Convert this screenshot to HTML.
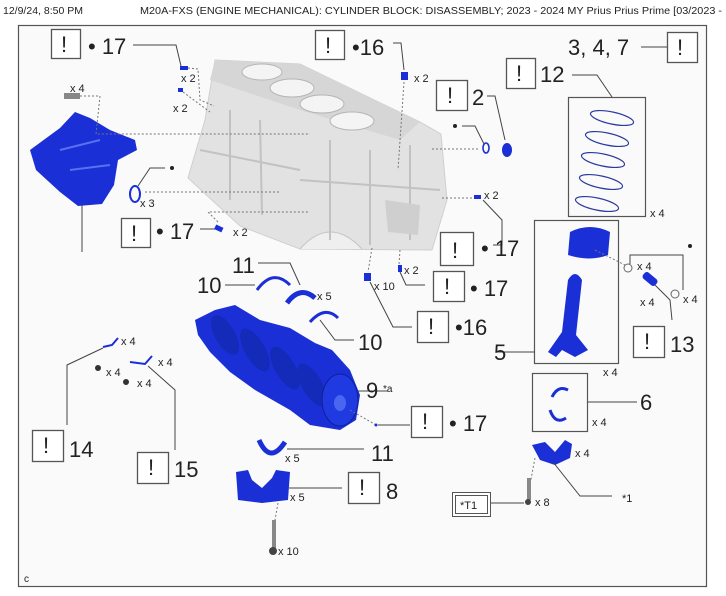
<!DOCTYPE html>
<html><head><meta charset="utf-8"><style>
html,body{margin:0;padding:0;background:#fff;width:726px;height:596px;overflow:hidden}
svg{display:block}
text{font-family:"Liberation Sans",sans-serif;fill:#222}
.b{fill:#fff;stroke:#555;stroke-width:1.3}
.l{fill:none;stroke:#444;stroke-width:1}
.d{fill:none;stroke:#777;stroke-width:1;stroke-dasharray:2,2}
.n{font-size:22px}
.x{font-size:11px}
.bl{fill:#1a2fd6}
.ex{font-size:22px}
</style></head><body>
<svg width="726" height="596" viewBox="0 0 726 596">
<text x="3" y="14" style="font-size:10.5px">12/9/24, 8:50 PM</text>
<text x="140" y="14" style="font-size:10.5px" textLength="582" lengthAdjust="spacingAndGlyphs">M20A-FXS (ENGINE MECHANICAL): CYLINDER BLOCK: DISASSEMBLY; 2023 - 2024 MY Prius Prius Prime [03/2023 -</text>
<rect x="18.5" y="25.5" width="688" height="561" fill="#fafafa" stroke="#555" stroke-width="1.2"/>

<!-- engine block -->
<polygon points="215,60 300,64 420,122 441,134 447,200 432,250 300,249 240,226 188,178 205,120" fill="#e2e2e2" stroke="#cfcfcf"/>
<polygon points="215,60 300,64 420,122 400,140 300,110 210,80" fill="#d6d6d6"/>
<ellipse cx="262" cy="72" rx="20" ry="8" fill="#f4f4f4" stroke="#b5b5b5"/>
<ellipse cx="292" cy="88" rx="22" ry="9" fill="#f4f4f4" stroke="#b5b5b5"/>
<ellipse cx="322" cy="104" rx="22" ry="9" fill="#f4f4f4" stroke="#b5b5b5"/>
<ellipse cx="352" cy="121" rx="22" ry="9" fill="#f4f4f4" stroke="#b5b5b5"/>
<path d="M300,249 Q330,215 362,249" fill="#efefef" stroke="#c4c4c4"/>
<path d="M330,140 L330,240 M370,150 L370,245 M410,145 L410,240 M300,180 L440,190 M230,110 L230,200 M260,120 L262,215 M200,150 L300,170" stroke="#c2c2c2" stroke-width="2" fill="none"/>
<polygon points="385,200 420,205 418,235 388,232" fill="#cfcfcf"/>

<!-- bracket part 1 -->
<polygon class="bl" points="30,150 60,128 75,112 90,118 110,130 135,140 137,150 118,160 114,185 102,204 78,206 60,192 36,170"/>
<path d="M60,150 L100,140 M70,170 L110,165" stroke="#5a70f0" stroke-width="2" fill="none"/>
<line class="l" x1="82" y1="205" x2="82" y2="252"/>
<rect x="64" y="93" width="16" height="6" fill="#888"/>
<text class="x" x="70" y="92">x 4</text>
<path class="d" d="M80,96 L100,96 L96,134 L135,134 L310,134"/>

<!-- top-left group 17 -->
<rect class="b" x="51.5" y="29.5" width="29" height="29"/><text class="ex" x="61" y="52">!</text>
<text class="n" x="88" y="54">• 17</text>
<path class="l" d="M133,45 L176,45 L181,66"/>
<rect class="bl" x="180" y="66" width="8" height="4"/>
<text class="x" x="181" y="82">x 2</text>
<rect class="bl" x="178" y="88" width="5" height="4"/>
<text class="x" x="173" y="112">x 2</text>
<path class="d" d="M188,68 L198,69 L200,100 L214,106 M183,92 L210,112"/>

<!-- ring x3 -->
<ellipse cx="135" cy="194" rx="5" ry="8" fill="none" stroke="#1a2fd6" stroke-width="2"/>
<path class="l" d="M138,186 L150,168 L165,168"/><circle cx="172" cy="168" r="2" fill="#222"/>
<text class="x" x="140" y="207">x 3</text>
<path class="d" d="M145,192 L280,192"/>

<!-- 17 left-middle -->
<rect class="b" x="121.5" y="218.5" width="29" height="29"/><text class="ex" x="131" y="241">!</text>
<text class="n" x="156" y="239">• 17</text>
<path class="l" d="M200,229 L215,229"/>
<rect class="bl" x="215" y="226" width="8" height="5" transform="rotate(25 219 228)"/>
<text class="x" x="233" y="236">x 2</text>
<path class="d" d="M218,222 L208,212 L308,212"/>

<!-- 16 top -->
<rect class="b" x="315.5" y="30.5" width="29" height="29"/><text class="ex" x="325" y="53">!</text>
<text class="n" x="352" y="55">•16</text>
<path class="l" d="M393,43 L401,43 L404,70"/>
<rect class="bl" x="401" y="72" width="7" height="8"/>
<text class="x" x="414" y="82">x 2</text>
<path class="d" d="M404,82 L398,170"/>

<!-- 3,4,7 -->
<text class="n" x="568" y="55">3, 4, 7</text>
<line class="l" x1="641" y1="47" x2="667" y2="47"/>
<rect class="b" x="667.5" y="32.5" width="30" height="30"/><text class="ex" x="677" y="55">!</text>

<!-- 12 -->
<rect class="b" x="506.5" y="58.5" width="29" height="30"/><text class="ex" x="516" y="81">!</text>
<text class="n" x="540" y="82">12</text>
<path class="l" d="M572,75 L597,75 L612,97"/>
<rect x="568.5" y="97.5" width="77" height="119" fill="none" stroke="#555" stroke-width="1.2"/>
<g fill="none" stroke="#2c3aa0" stroke-width="1.2">
<ellipse cx="612" cy="118" rx="22" ry="6" transform="rotate(12 612 118)"/>
<ellipse cx="607" cy="139" rx="22" ry="6" transform="rotate(12 607 139)"/>
<ellipse cx="603" cy="160" rx="22" ry="6" transform="rotate(12 603 160)"/>
<ellipse cx="601" cy="182" rx="22" ry="6" transform="rotate(12 601 182)"/>
<ellipse cx="597" cy="204" rx="22" ry="6" transform="rotate(12 597 204)"/>
</g>
<text class="x" x="650" y="217">x 4</text>

<!-- 2 -->
<rect class="b" x="436.5" y="80.5" width="31" height="30"/><text class="ex" x="447" y="103">!</text>
<text class="n" x="472" y="105">2</text>
<path class="l" d="M487,96 L495,96 L505,140"/>
<ellipse cx="507" cy="150" rx="5" ry="7" class="bl"/>
<ellipse cx="486" cy="148" rx="3" ry="5" fill="none" stroke="#1a2fd6" stroke-width="1.6"/>
<path class="l" d="M462,126 L475,126 L484,144"/><circle cx="455" cy="126" r="2" fill="#222"/>
<path class="d" d="M432,149 L480,149"/>

<!-- 17 right x2 -->
<rect class="bl" x="474" y="195" width="7" height="4"/>
<text class="x" x="484" y="199">x 2</text>
<path class="d" d="M442,198 L474,198"/>
<path class="l" d="M483,200 L502,220 L502,245 L493,245"/>
<rect class="b" x="440.5" y="232.5" width="33" height="33"/><text class="ex" x="452" y="258">!</text>
<text class="n" x="481" y="256">• 17</text>

<!-- 17 x2 lower -->
<rect class="bl" x="398" y="265" width="4" height="7"/>
<text class="x" x="404" y="274">x 2</text>
<path class="d" d="M400,250 L399,265"/>
<path class="l" d="M400,272 L406,285 L425,285"/>
<rect class="b" x="433.5" y="271.5" width="31" height="30"/><text class="ex" x="444" y="294">!</text>
<text class="n" x="470" y="296">• 17</text>

<!-- 16 lower x10 -->
<rect class="bl" x="364" y="273" width="7" height="8"/>
<text class="x" x="374" y="290">x 10</text>
<path class="d" d="M372,248 L368,272"/>
<path class="l" d="M370,282 L393,327 L412,327"/>
<rect class="b" x="417.5" y="311.5" width="31" height="31"/><text class="ex" x="428" y="334">!</text>
<text class="n" x="455" y="335">•16</text>

<!-- piston box -->
<rect x="534.5" y="220.5" width="84" height="143" fill="none" stroke="#555" stroke-width="1.2"/>
<path class="bl" d="M570,232 Q590,222 610,232 L608,255 Q590,262 568,255 Z"/>
<path class="bl" d="M568,280 Q575,268 582,280 L576,335 L588,350 L575,357 L562,350 L556,357 L548,352 L562,332 Z"/>
<path class="d" d="M595,250 L625,265"/>
<path class="l" d="M498,352 L534,352"/>
<text class="n" x="494" y="360">5</text>
<text class="x" x="603" y="376">x 4</text>
<circle cx="628" cy="268" r="4" fill="none" stroke="#666"/>
<text class="x" x="637" y="270">x 4</text>
<rect class="bl" x="642" y="275" width="16" height="8" rx="3" transform="rotate(40 650 279)"/>
<text class="x" x="640" y="306">x 4</text>
<circle cx="675" cy="294" r="4" fill="none" stroke="#666"/>
<text class="x" x="683" y="303">x 4</text>
<path class="l" d="M630,264 L630,255 L683,255 L683,290"/>
<circle cx="690" cy="246" r="2" fill="#222"/>
<path class="l" d="M655,285 L670,300 L672,320"/>
<rect class="b" x="633.5" y="326.5" width="31" height="31"/><text class="ex" x="644" y="349">!</text>
<text class="n" x="670" y="352">13</text>

<!-- 6 -->
<rect x="532.5" y="373.5" width="55" height="58" fill="none" stroke="#555" stroke-width="1.2"/>
<path d="M552,397 Q558,385 568,390 M550,410 Q555,425 566,418" fill="none" stroke="#1a2fd6" stroke-width="3"/>
<path class="l" d="M588,402 L637,402"/>
<text class="n" x="640" y="410">6</text>
<text class="x" x="592" y="426">x 4</text>

<!-- *1 cap -->
<path class="bl" d="M532,445 L545,442 L555,452 L565,440 L572,444 L570,458 L555,465 L540,460 Z"/>
<text class="x" x="575" y="457">x 4</text>
<path class="l" d="M553,462 L580,496 L612,496"/>
<text class="x" x="622" y="502">*1</text>
<path class="d" d="M535,458 L528,495"/>
<rect x="527" y="478" width="4" height="22" fill="#888"/><circle cx="528" cy="502" r="3" fill="#444"/>
<text class="x" x="535" y="506">x 8</text>
<rect x="452.5" y="492.5" width="38" height="24" fill="#fff" stroke="#555"/>
<rect x="455.5" y="495.5" width="32" height="18" fill="#fff" stroke="#555"/>
<text x="460" y="509" style="font-size:11px">*T1</text>
<line class="l" x1="491" y1="503" x2="524" y2="503"/>

<!-- bearings 10/11 top -->
<text class="n" x="232" y="273">11</text>
<path class="l" d="M258,263 L290,263 L300,285"/>
<text class="n" x="197" y="293">10</text>
<path class="l" d="M225,285 L255,285"/>
<path d="M257,290 Q273,268 290,285" fill="none" stroke="#1a2fd6" stroke-width="3"/>
<path d="M287,303 Q300,285 315,298" fill="none" stroke="#1a2fd6" stroke-width="5"/>
<text class="x" x="317" y="300">x 5</text>
<path d="M310,322 Q325,305 338,318" fill="none" stroke="#1a2fd6" stroke-width="3"/>
<path class="l" d="M320,320 L335,340 L354,340"/>
<text class="n" x="358" y="350">10</text>

<!-- crankshaft -->
<polygon class="bl" points="195,320 215,310 235,305 260,320 290,328 315,343 332,350 350,370 360,395 356,420 340,430 310,425 290,410 255,390 230,372 210,352 198,335"/>
<g fill="#142ab8">
<ellipse cx="225" cy="335" rx="10" ry="22" transform="rotate(-30 225 335)"/>
<ellipse cx="255" cy="350" rx="10" ry="24" transform="rotate(-30 255 350)"/>
<ellipse cx="285" cy="368" rx="10" ry="24" transform="rotate(-30 285 368)"/>
<ellipse cx="312" cy="385" rx="10" ry="24" transform="rotate(-30 312 385)"/>
</g>
<ellipse cx="340" cy="400" rx="18" ry="26" fill="#1f3ae0" stroke="#0f1f9a"/>
<ellipse cx="340" cy="403" rx="6" ry="8" fill="#4a66f0"/>
<path class="l" d="M358,391 L388,391"/>
<text class="n" x="366" y="398">9</text>
<text x="383" y="392" style="font-size:10px">*a</text>
<path class="d" d="M350,410 L376,425"/>
<circle cx="376" cy="425" r="1.5" fill="#1a2fd6"/>
<line class="l" x1="378" y1="425" x2="410" y2="425"/>
<rect class="b" x="411.5" y="406.5" width="31" height="31"/><text class="ex" x="422" y="429">!</text>
<text class="n" x="449" y="431">• 17</text>

<!-- 11 lower, 8 -->
<path d="M259,440 Q270,465 285,442" fill="none" stroke="#1a2fd6" stroke-width="5"/>
<text class="x" x="285" y="462">x 5</text>
<path class="l" d="M287,449 L364,449"/>
<text class="n" x="371" y="461">11</text>
<path class="bl" d="M236,472 L248,470 L252,480 L262,488 L272,478 L276,470 L290,472 L288,500 L262,503 L238,500 Z"/>
<text class="x" x="290" y="501">x 5</text>
<line class="l" x1="289" y1="488" x2="342" y2="488"/>
<rect class="b" x="348.5" y="472.5" width="31" height="31"/><text class="ex" x="359" y="495">!</text>
<text class="n" x="386" y="499">8</text>
<path class="d" d="M278,503 L275,520"/>
<rect x="272" y="520" width="4" height="28" fill="#888"/><circle cx="273" cy="551" r="4" fill="#444"/>
<text class="x" x="278" y="555">x 10</text>

<!-- 14/15 -->
<path d="M103,347 L112,345 L118,338" fill="none" stroke="#1a2fd6" stroke-width="2"/>
<text class="x" x="121" y="345">x 4</text>
<circle cx="98" cy="368" r="3" fill="#333"/><text class="x" x="106" y="376">x 4</text>
<path class="l" d="M103,348 L67,365 L67,425"/>
<rect class="b" x="32.5" y="430.5" width="31" height="31"/><text class="ex" x="43" y="453">!</text>
<text class="n" x="69" y="457">14</text>
<path d="M130,362 L145,364 L152,356" fill="none" stroke="#1a2fd6" stroke-width="2"/>
<text class="x" x="158" y="366">x 4</text>
<circle cx="126" cy="382" r="3" fill="#333"/><text class="x" x="137" y="387">x 4</text>
<path class="l" d="M148,366 L175,390 L175,450"/>
<rect class="b" x="137.5" y="452.5" width="31" height="31"/><text class="ex" x="148" y="475">!</text>
<text class="n" x="174" y="477">15</text>

<text x="24" y="582" style="font-size:10px">c</text>
</svg>
</body></html>
